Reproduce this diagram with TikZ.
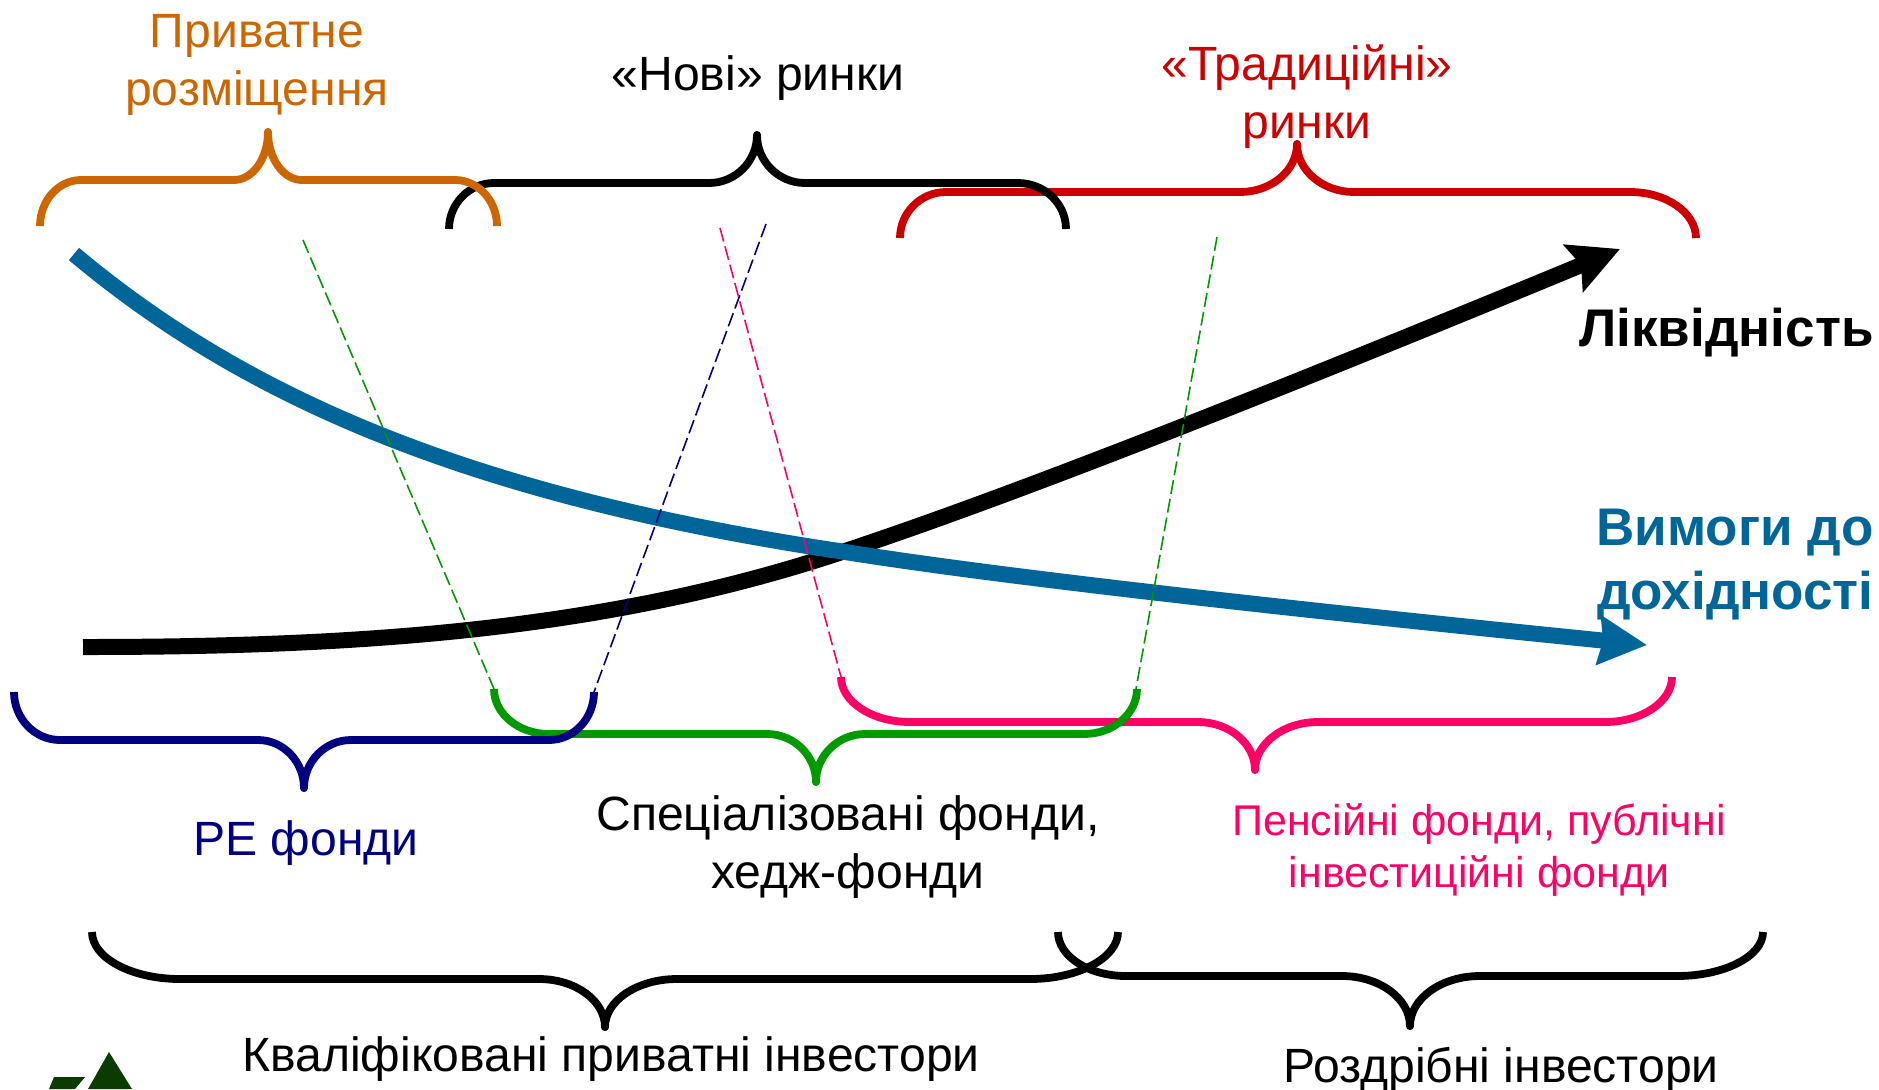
\documentclass[tikz,border=0pt]{standalone}
\usepackage{fontspec}
\setmainfont{Liberation Sans}
\usetikzlibrary{arrows.meta}
\definecolor{cOrange}{HTML}{CC6600}
\definecolor{cRed}{HTML}{CC0000}
\definecolor{cNavy}{HTML}{000080}
\definecolor{cGreen}{HTML}{009900}
\definecolor{cPink}{HTML}{FF0066}
\definecolor{cBlue}{HTML}{006699}
\definecolor{cLogo}{HTML}{0A3B00}
\tikzset{
  bracket/.style={line width=3.9pt,line cap=butt,line join=round},
  guide/.style={line width=0.8pt,dash pattern=on 7pt off 2.5pt},
  curvea/.style={line width=8pt,-{Stealth[length=25pt,width=25pt,inset=4pt]}},
  curveb/.style={line width=8pt,cBlue,-{Stealth[length=24pt,width=24pt,inset=2pt]}},
  lab/.style={font=\fontsize{24.05}{29}\selectfont,align=center,anchor=base,inner sep=0pt},
  labs/.style={font=\fontsize{21.5}{26}\selectfont,align=center,anchor=base,inner sep=0pt},
  labb/.style={font=\fontsize{26.5}{32}\selectfont\bfseries,align=right,anchor=base east,inner sep=0pt},
}
% #1 colour, #2 left x, #3 end y, #4 flat y, #5 flat start, #6 flat end L, #7 tip x, #8 tip y, #9 flat start R
\newcommand{\curlybr}[9]{%
  \def\xa{#2}\def\ya{#3}\def\yb{#4}\def\xb{#5}\def\xc{#6}\def\xm{#7}\def\ym{#8}\def\xd{#9}\curlybrb{#1}}
% #1 colour, #2 right x, #3 flat end R
\newcommand{\curlybrb}[3]{%
  \pgfmathsetmacro{\cyy}{\yb+0.45*(\ya-\yb)}
  \pgfmathsetmacro{\cxb}{\xa+0.45*(\xb-\xa)}
  \pgfmathsetmacro{\cxc}{\xc+0.55*(\xm-\xc)}
  \pgfmathsetmacro{\cyt}{\yb+0.45*(\ym-\yb)}
  \pgfmathsetmacro{\cxd}{\xd+0.55*(\xm-\xd)}
  \pgfmathsetmacro{\cxf}{#3+0.55*(#2-#3)}
  \draw[bracket,#1] (\xa,\ya) .. controls (\xa,\cyy) and (\cxb,\yb) .. (\xb,\yb) -- (\xc,\yb)
    .. controls (\cxc,\yb) and (\xm,\cyt) .. (\xm,\ym)
    .. controls (\xm,\cyt) and (\cxd,\yb) .. (\xd,\yb) -- (#3,\yb)
    .. controls (\cxf,\yb) and (#2,\cyy) .. (#2,\ya);
  \fill[#1] (\xm,\ym) circle (1.95pt);}
\begin{document}
\begin{tikzpicture}[x=0.5pt,y=-0.5pt]
\useasboundingbox (0,0) rectangle (1879,1089);
% curves
\draw[curvea] (83,647) .. controls (350,647) and (600,632) .. (839,553)
  .. controls (1000,500) and (1250,402) .. (1620,249);
\draw[curveb] (74,254) .. controls (250,402) and (480,497) .. (839,551)
  .. controls (1000,577) and (1300,610) .. (1647,645);
% guide lines
\coordinate (gAa) at (303,240); \coordinate (gAb) at (494,689);
\coordinate (gBa) at (1217,237); \coordinate (gBb) at (1136,689);
\coordinate (gCa) at (766,224); \coordinate (gCb) at (594,692);
\coordinate (gDa) at (720,228); \coordinate (gDb) at (841,677);
\draw[guide,cGreen] (gAa) -- (gAb);
\draw[guide,cGreen] (gBa) -- (gBb);
\draw[guide,cNavy] (gCa) -- (gCb);
\draw[guide,cPink] (gDa) -- (gDb);
% top braces
\curlybr{cRed}{900}{238}{192}{946}{1240}{1297}{144}{1354}{1696}{1630}
\curlybr{black}{449}{229}{183}{494}{709}{757}{135}{805}{1066}{1018}
\curlybr{cOrange}{40}{226}{180}{81}{234}{268}{132}{302}{497}{455}
% lower braces
\curlybr{cPink}{841}{677}{722}{910}{1198}{1255}{770}{1318}{1672}{1605}
\curlybr{cGreen}{494}{689}{734}{549}{767}{816}{782}{865}{1137}{1084}
\curlybr{cNavy}{14}{692}{740}{60}{258}{304}{788}{351}{594}{549}
\curlybr{black}{92}{932}{979}{180}{539}{605}{1027}{677}{1118}{1030}
\curlybr{black}{1058}{932}{976}{1126}{1342}{1410}{1026}{1480}{1763}{1677}
% logo
\fill[cLogo] (109,1052) -- (132,1089) -- (88,1089) -- cycle;
\fill[cLogo] (54,1077) -- (85,1077) -- (75,1089) -- (49,1089) -- cycle;
% labels
\node[lab,text=cOrange] (lPriv) at (257,105) {Приватне\\розміщення};
\node[lab] (lNew) at (758,90) {«Нові» ринки};
\node[lab,text=cRed] (lTrad) at (1307,138) {«Традиційні»\\ринки};
\node[lab,text=cNavy] (lPE) at (306,855) {РЕ фонди};
\node[lab] (lSpec) at (848,888) {Спеціалізовані фонди,\\хедж-фонди};
\node[labs,text=cPink] (lPens) at (1479,887) {Пенсійні фонди, публічні\\інвестиційні фонди};
\node[lab] (lQual) at (611,1071) {Кваліфіковані приватні інвестори};
\node[lab] (lRet) at (1501,1082) {Роздрібні інвестори};
\node[labb] (lLiq) at (1874,346) {Ліквідність};
\node[labb,text=cBlue] (lReq) at (1874,609) {Вимоги до\\дохідності};
\end{tikzpicture}
\end{document}
